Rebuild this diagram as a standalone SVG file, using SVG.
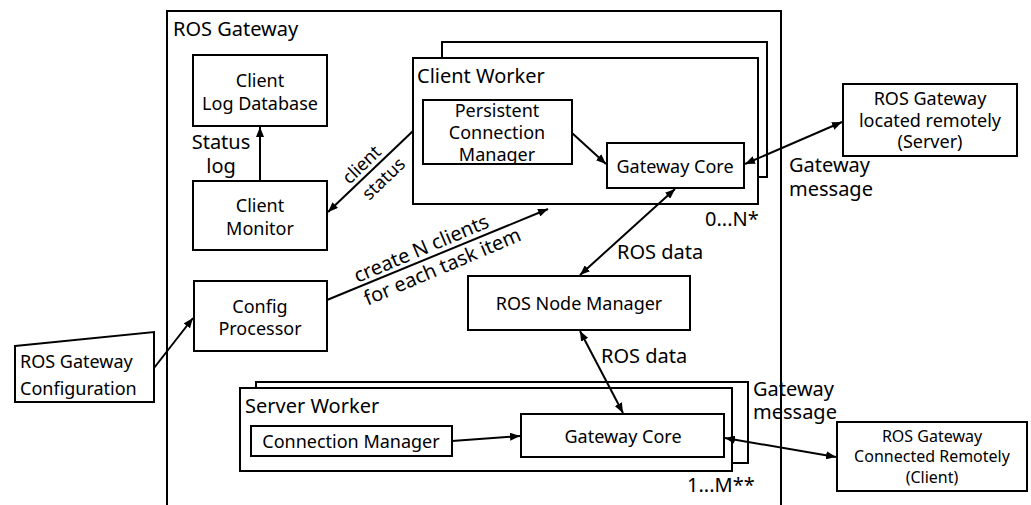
<svg xmlns="http://www.w3.org/2000/svg" width="1031" height="505" viewBox="0 0 1031 505">
  <defs>
    <marker id="arrow" viewBox="0 0 10 8" refX="10" refY="4" markerWidth="10" markerHeight="8" markerUnits="userSpaceOnUse" orient="auto-start-reverse">
      <path d="M0,0 L10,4 L0,8 z" fill="#000"/>
    </marker>
    <style>
      .box { fill: #fff; stroke: #000; stroke-width: 2; }
      .frame { fill: none; stroke: #000; stroke-width: 2; }
      .txt { font-family: "Noto Sans", "DejaVu Sans", sans-serif; font-size: 18px; fill: #000; }
      .mid { text-anchor: middle; }
      .big { font-size: 20px; }
      .small { font-size: 16px; }
      .conn { fill: none; stroke: #000; stroke-width: 2; }
      .one { marker-end: url(#arrow); }
      .two { marker-start: url(#arrow); marker-end: url(#arrow); }
    </style>
  </defs>

  <rect width="1031" height="505" fill="#fff"/>

  <!-- ROS Gateway container (open at the bottom edge) -->
  <g id="ros-gateway">
    <path class="frame" d="M167,510 V11 H781 V510"/>
    <text class="txt big" x="173" y="36">ROS Gateway</text>
  </g>

  <g id="client-log-database">
    <rect class="box" x="193" y="55" width="134" height="71"/>
    <text class="txt mid" x="260" y="87">Client</text>
    <text class="txt mid" x="260" y="110">Log Database</text>
  </g>

  <g id="client-monitor">
    <rect class="box" x="193" y="181" width="134" height="69"/>
    <text class="txt mid" x="260" y="212">Client</text>
    <text class="txt mid" x="260" y="235">Monitor</text>
  </g>

  <g id="config-processor">
    <rect class="box" x="194" y="281" width="133" height="70"/>
    <text class="txt mid" x="260" y="313">Config</text>
    <text class="txt mid" x="260" y="335">Processor</text>
  </g>

  <g id="ros-gateway-configuration">
    <path class="box" d="M15,346 L154,332 L154,402 L15,402 z"/>
    <text class="txt" x="20" y="368">ROS Gateway</text>
    <text class="txt" x="20" y="395">Configuration</text>
  </g>

  <!-- Client Worker: stacked frames for multiple instances -->
  <g id="client-worker">
    <rect class="box" x="442" y="42" width="325" height="135"/>
    <rect class="box" x="413" y="58" width="345" height="146"/>
    <text class="txt big" x="417" y="83">Client Worker</text>
    <text class="txt big" x="705" y="226">0...N*</text>
  </g>

  <g id="persistent-connection-manager">
    <rect class="box" x="423" y="100" width="149" height="64"/>
    <text class="txt mid" x="497" y="117">Persistent</text>
    <text class="txt mid" x="497" y="139">Connection</text>
    <text class="txt mid" x="497" y="161">Manager</text>
  </g>

  <g id="client-gateway-core">
    <rect class="box" x="607" y="143" width="137" height="45"/>
    <text class="txt mid" x="675" y="173">Gateway Core</text>
  </g>

  <g id="remote-server">
    <rect class="box" x="843" y="84" width="174" height="72"/>
    <text class="txt mid" x="930" y="105">ROS Gateway</text>
    <text class="txt mid" x="930" y="127">located remotely</text>
    <text class="txt mid" x="930" y="148">(Server)</text>
  </g>

  <g id="ros-node-manager">
    <rect class="box" x="468" y="276" width="222" height="54"/>
    <text class="txt mid" x="579" y="310">ROS Node Manager</text>
  </g>

  <!-- Server Worker: stacked frames for multiple instances -->
  <g id="server-worker">
    <rect class="box" x="256" y="382" width="492" height="81"/>
    <rect class="box" x="240" y="388" width="492" height="83"/>
    <text class="txt big" x="245" y="413">Server Worker</text>
    <text class="txt big" x="687" y="492">1...M**</text>
  </g>

  <g id="connection-manager">
    <rect class="box" x="251" y="426" width="201" height="30"/>
    <text class="txt mid" x="351" y="448">Connection Manager</text>
  </g>

  <g id="server-gateway-core">
    <rect class="box" x="521" y="414" width="203" height="43"/>
    <text class="txt mid" x="623" y="443">Gateway Core</text>
  </g>

  <g id="remote-client">
    <rect class="box" x="837" y="422" width="190" height="69"/>
    <text class="txt mid small" x="932" y="442">ROS Gateway</text>
    <text class="txt mid small" x="932" y="462">Connected Remotely</text>
    <text class="txt mid small" x="932" y="483">(Client)</text>
  </g>

  <!-- Connectors and their labels -->
  <g id="connectors">
    <line class="conn one" x1="260" y1="181" x2="260" y2="127"/>
    <line class="conn one" x1="413" y1="131" x2="328" y2="212"/>
    <line class="conn one" x1="327" y1="300" x2="548" y2="209"/>
    <line class="conn one" x1="154" y1="368" x2="193" y2="318"/>
    <line class="conn one" x1="572" y1="133" x2="606" y2="164"/>
    <line class="conn two" x1="745" y1="164" x2="842" y2="122"/>
    <line class="conn two" x1="675" y1="189" x2="580" y2="275"/>
    <line class="conn two" x1="580" y1="331" x2="623" y2="413"/>
    <line class="conn one" x1="452" y1="441" x2="520" y2="436"/>
    <line class="conn two" x1="725" y1="438" x2="836" y2="457"/>

    <text class="txt big" x="221" y="149" text-anchor="middle">Status</text>
    <text class="txt big" x="221" y="173" text-anchor="middle">log</text>
    <text class="txt" x="361" y="164" text-anchor="middle" dominant-baseline="central" transform="rotate(-44 361 164)">client</text>
    <text class="txt" x="383" y="178" text-anchor="middle" dominant-baseline="central" transform="rotate(-44 383 178)">status</text>
    <text class="txt big" x="421" y="248" text-anchor="middle" dominant-baseline="central" transform="rotate(-23 421 248)">create N clients</text>
    <text class="txt big" x="442" y="266" text-anchor="middle" dominant-baseline="central" transform="rotate(-23 442 266)">for each task item</text>
    <text class="txt big" x="789" y="172">Gateway</text>
    <text class="txt big" x="789" y="196">message</text>
    <text class="txt big" x="617" y="259">ROS data</text>
    <text class="txt big" x="601" y="363">ROS data</text>
    <text class="txt big" x="753" y="396">Gateway</text>
    <text class="txt big" x="753" y="419">message</text>
  </g>
</svg>
